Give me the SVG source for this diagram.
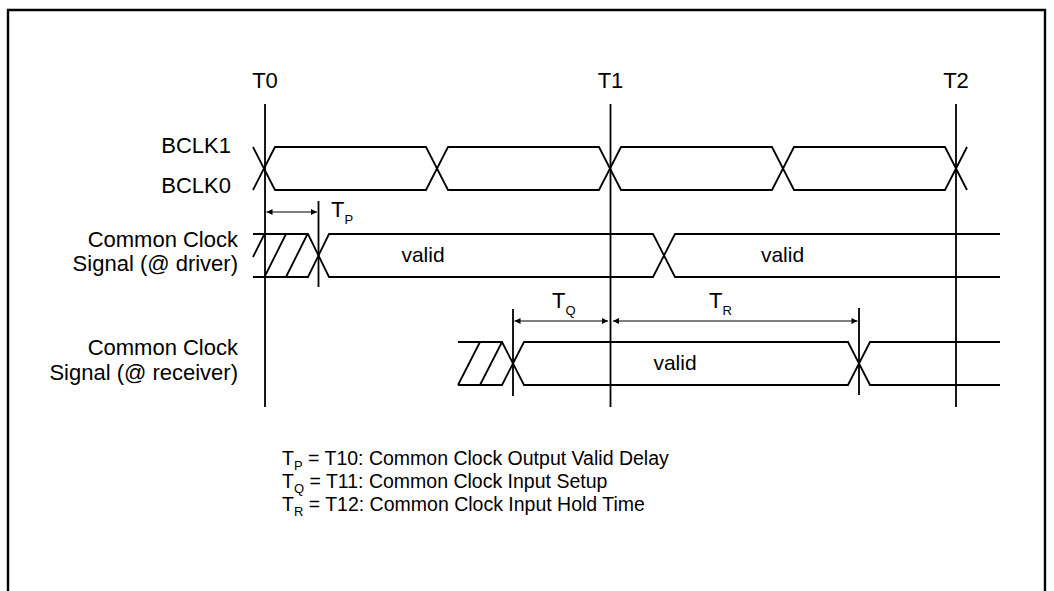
<svg xmlns="http://www.w3.org/2000/svg" width="1054" height="591" viewBox="0 0 1054 591">
<defs>
<marker id="ah" viewBox="0 0 10 10" refX="10" refY="5" markerWidth="8" markerHeight="6" orient="auto-start-reverse" markerUnits="userSpaceOnUse">
<path d="M0,0 L10,5 L0,10 z" fill="#000"/>
</marker>
<style>
.ln{fill:none;stroke:#000;stroke-width:1.8;stroke-linejoin:miter}
.mk{fill:none;stroke:#000;stroke-width:1.8}
.ar{fill:none;stroke:#000;stroke-width:1.1;marker-start:url(#ah);marker-end:url(#ah)}
.lb{font-family:"Liberation Sans",Arial,sans-serif;font-size:22px;fill:#000}
.vl{font-family:"Liberation Sans",Arial,sans-serif;font-size:21px;fill:#000;text-anchor:middle}
.lg{font-family:"Liberation Sans",Arial,sans-serif;font-size:19.5px;fill:#000}
.sb{font-size:13px}
.end{text-anchor:end}
.mid{text-anchor:middle}
</style>
</defs>
<rect width="1054" height="591" fill="#fff"/>
<path d="M8,591 V10 H1045 V591" fill="none" stroke="#000" stroke-width="2.4"/>

<g id="time-markers">
<text class="lb mid" x="265" y="88">T0</text>
<text class="lb mid" x="610.5" y="88">T1</text>
<text class="lb mid" x="956" y="88">T2</text>
<path class="mk" d="M265,104 V407 M610.5,104 V407 M956,104 V407"/>
</g>

<g id="bclk">
<text class="lb end" x="231" y="153">BCLK1</text>
<text class="lb end" x="231" y="193">BCLK0</text>
<path class="ln" d="M253,190 L275,147 H426 L448,190 H599 L621,147 H772 L794,190 H945 L967,147"/>
<path class="ln" d="M253,147 L275,190 H426 L448,147 H599 L621,190 H772 L794,147 H945 L967,190"/>
</g>

<g id="driver">
<text class="lb end" x="238" y="247">Common Clock</text>
<text class="lb end" x="238" y="271">Signal (@ driver)</text>
<path class="ln" d="M253,234 H308 L329,277 H653 L675,234 H1000"/>
<path class="ln" d="M253,277 H308 L329,234 H653 L675,277 H1000"/>
<path class="ln" d="M253,257 L264.5,234 M264.5,277 L286,234 M286,277 L307.5,234"/>
<text class="vl" x="423" y="262">valid</text>
<text class="vl" x="782.5" y="262">valid</text>
<path class="mk" d="M318.5,201 V287"/>
<text class="lb" x="331" y="217">T<tspan class="sb" dy="7">P</tspan></text>
</g>

<g id="receiver">
<text class="lb end" x="238" y="355">Common Clock</text>
<text class="lb end" x="238" y="380">Signal (@ receiver)</text>
<path class="ln" d="M458,342 H502 L524,385 H848 L870,342 H1000"/>
<path class="ln" d="M458,385 H502 L524,342 H848 L870,385 H1000"/>
<path class="ln" d="M458,385 L480,342 M480,385 L502,342"/>
<text class="vl" x="675" y="370">valid</text>
<path class="mk" d="M513,309 V396 M859,308 V395"/>
<text class="lb" x="552" y="308">T<tspan class="sb" dy="7">Q</tspan></text>
<text class="lb" x="709" y="308">T<tspan class="sb" dy="7">R</tspan></text>
</g>

<g id="connectors">
<path class="ar" d="M266.5,212 H317"/>
<path class="ar" d="M514.5,321 H608"/>
<path class="ar" d="M613,321 H857.5"/>
</g>

<g id="legend">
<text class="lg" x="282" y="465">T<tspan class="sb" dy="5">P</tspan><tspan dy="-5"> = T10: Common Clock Output Valid Delay</tspan></text>
<text class="lg" x="282" y="488">T<tspan class="sb" dy="5">Q</tspan><tspan dy="-5"> = T11: Common Clock Input Setup</tspan></text>
<text class="lg" x="282" y="511">T<tspan class="sb" dy="5">R</tspan><tspan dy="-5"> = T12: Common Clock Input Hold Time</tspan></text>
</g>
</svg>
